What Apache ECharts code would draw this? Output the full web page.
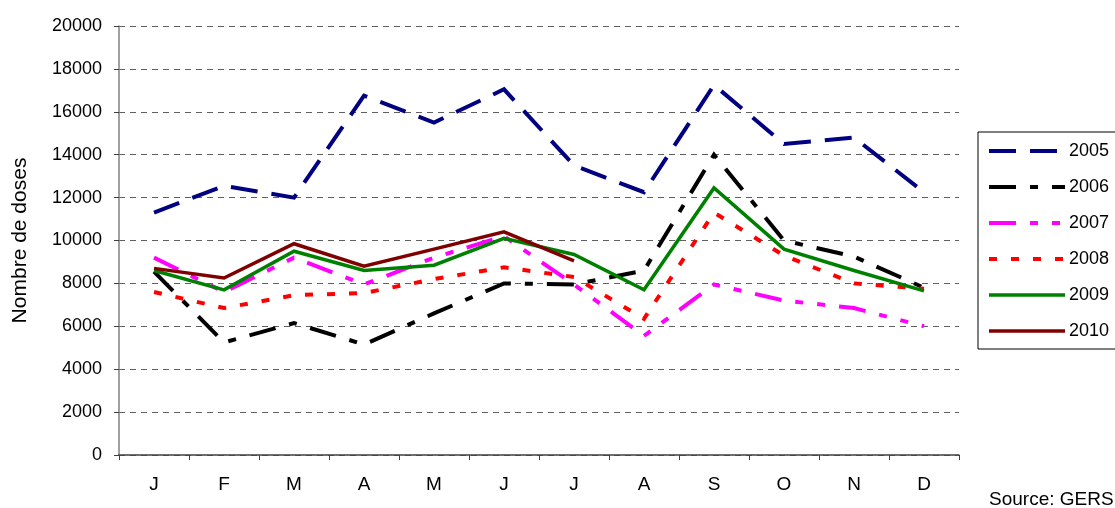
<!DOCTYPE html>
<html>
<head>
<meta charset="utf-8">
<script src="https://cdn.jsdelivr.net/npm/echarts@6/dist/echarts.min.js"></script>
<style>
  html, body { margin: 0; padding: 0; background: #fff; }
  #chart { width: 1115px; height: 508px; }
</style>
</head>
<body>
<div id="chart"></div>
<script>
const months = ['J', 'F', 'M', 'A', 'M', 'J', 'J', 'A', 'S', 'O', 'N', 'D'];
const yTicks = [0, 2000, 4000, 6000, 8000, 10000, 12000, 14000, 16000, 18000, 20000];
const years = ['2005', '2006', '2007', '2008', '2009', '2010'];
const d2005 = [11300, 12550, 12000, 16750, 15500, 17050, 13500, 12250, 17250, 14500, 14800, 12250];
const d2006 = [8550, 5250, 6150, 5150, 6600, 8000, 7950, 8600, 14000, 10000, 9250, 7800];
const d2007 = [9200, 7600, 9200, 7950, 9200, 10200, 7950, 5550, 7950, 7200, 6850, 6000];
const d2008 = [7600, 6850, 7450, 7550, 8200, 8750, 8300, 6350, 11300, 9300, 8000, 7750];
const d2009 = [8600, 7700, 9500, 8600, 8850, 10100, 9350, 7700, 12450, 9600, 8600, 7650];
const d2010 = [8700, 8250, 9850, 8800, 9600, 10400, 9050, null, null, null, null, null];

const values = [d2005, d2006, d2007, d2008, d2009, d2010];
const colors = ['#000080', '#000000', '#FF00FF', '#FF0000', '#008000', '#800000'];
const dashes = [[27, 14], [27, 14, 8, 14], [27, 14, 8, 14, 8, 14], [8, 14], 'solid', 'solid'];
const widths = [4, 4, 4, 4, 3.5, 3.5];

const FONT = '"Liberation Sans", Arial, sans-serif';

const chart = echarts.init(document.getElementById('chart'), null, { renderer: 'canvas' });
chart.setOption({
  animation: false,
  backgroundColor: '#ffffff',
  grid: { left: 119, right: 156, top: 26, bottom: 53, containLabel: false },
  xAxis: {
    type: 'category',
    data: months,
    boundaryGap: true,
    axisLine: { lineStyle: { color: '#404040', width: 1.5 } },
    axisTick: { show: true, interval: 0, length: 5, lineStyle: { color: '#404040' } },
    axisLabel: { interval: 0, margin: 20, fontSize: 19, color: '#000', fontFamily: FONT }
  },
  yAxis: {
    type: 'value',
    min: yTicks[0],
    max: yTicks[yTicks.length - 1],
    interval: yTicks[1] - yTicks[0],
    name: 'Nombre de doses',
    nameLocation: 'middle',
    nameGap: 88,
    nameTextStyle: { fontSize: 21, color: '#000', fontFamily: FONT },
    axisLine: { show: true, lineStyle: { color: '#808080', width: 1.5 } },
    axisTick: { show: true, length: 5, lineStyle: { color: '#404040' } },
    axisLabel: { margin: 17, fontSize: 18, color: '#000', fontFamily: FONT, formatter: v => String(v) },
    splitLine: { show: true, lineStyle: { color: '#606060', type: [6, 5], width: 1 } }
  },
  legend: {
    orient: 'vertical',
    left: 978,
    top: 132,
    padding: [10, 30, 9, 9],
    itemWidth: 76,
    itemHeight: 18,
    itemGap: 18,
    borderColor: '#000',
    borderWidth: 1,
    backgroundColor: '#fff',
    itemStyle: { opacity: 0 },
    textStyle: { fontSize: 18, color: '#000', fontFamily: FONT, padding: [0, 0, 0, -1] },
    data: years.map((y, i) => ({ name: y, itemStyle: { opacity: 0 }, lineStyle: { width: widths[i], type: dashes[i], color: colors[i] } }))
  },
  graphic: [{
    type: 'text',
    left: 989,
    top: 490,
    style: { text: 'Source: GERS', fontSize: 19, fill: '#000', fontFamily: FONT }
  }],
  series: years.map((y, i) => ({
    name: y,
    type: 'line',
    data: values[i],
    symbol: 'none',
    showSymbol: false,
    connectNulls: false,
    lineStyle: { color: colors[i], width: widths[i], type: dashes[i], cap: 'butt', join: 'miter' },
    itemStyle: { color: colors[i] },
    z: 2 + i
  }))
});
</script>
</body>
</html>
